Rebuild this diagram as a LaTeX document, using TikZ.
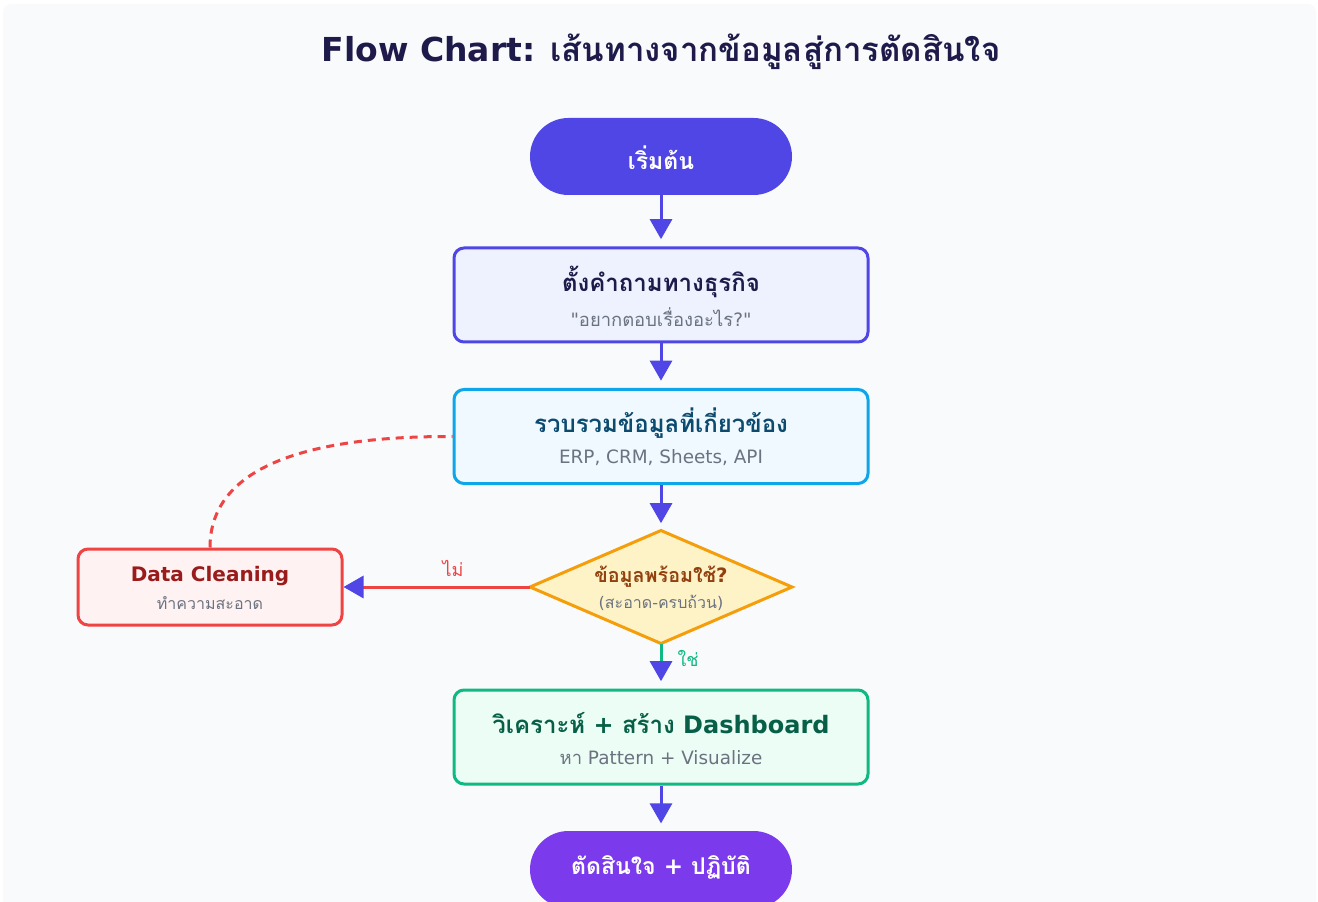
\documentclass[tikz,border=0pt]{standalone}
\usepackage{fontspec}
\setmainfont{DejaVu Sans}
\newfontfamily\thaifont[Script=Thai]{Loma}
\newfontfamily\straightquote{DejaVu Sans}
\usetikzlibrary{arrows.meta,shapes.geometric}

\definecolor{bgcol}{HTML}{F8FAFC}
\definecolor{navy}{HTML}{1E1B4B}
\definecolor{indigo}{HTML}{4F46E5}
\definecolor{indigofill}{HTML}{EEF2FF}
\definecolor{sky}{HTML}{0EA5E9}
\definecolor{skyfill}{HTML}{F0F9FF}
\definecolor{skytext}{HTML}{0C4A6E}
\definecolor{amber}{HTML}{F59E0B}
\definecolor{amberfill}{HTML}{FEF3C7}
\definecolor{ambertext}{HTML}{92400E}
\definecolor{redline}{HTML}{EF4444}
\definecolor{redfill}{HTML}{FEF2F2}
\definecolor{redtext}{HTML}{991B1B}
\definecolor{green}{HTML}{10B981}
\definecolor{greenfill}{HTML}{ECFDF5}
\definecolor{greentext}{HTML}{065F46}
\definecolor{violet}{HTML}{7C3AED}
\definecolor{subgray}{HTML}{6B7280}

\newcommand\thaitext[1]{{\thaifont #1}}
\newcommand\dq{{\straightquote"}}

\begin{document}
\begin{tikzpicture}[x=0.75pt,y=-0.75pt,
  box/.style={draw, line width=2.25pt, rounded corners=7.5pt,
    minimum width=310.5pt, minimum height=70.5pt, inner sep=0pt},
  pill/.style={rounded corners=28.875pt, minimum width=196.5pt,
    minimum height=57.75pt, inner sep=0pt},
  flow/.style={line width=2.25pt, draw=indigo,
    -{Triangle[length=15pt,width=16.5pt,color=indigo]}, shorten >=5.5pt},
  boxtitle/.style={font=\bfseries\fontsize{18}{22}\selectfont},
  pilltext/.style={text=white, font=\bfseries\fontsize{17.3}{21}\selectfont},
  boxsub/.style={text=subgray, font=\fontsize{13.8}{16}\selectfont},
  lbl/.style={font=\fontsize{13.5}{16}\selectfont}
]
\useasboundingbox (0,0) rectangle (1318,902);
\fill[white] (0,0) rectangle (1318,902);
\fill[bgcol, rounded corners=6pt] (3,4) rectangle (1316,930);

% heading
\node[text=navy, font=\bfseries\fontsize{24.75}{30}\selectfont] (heading) at (661,52)
  {Flow Chart: \thaitext{เส้นทางจากข้อมูลสู่การตัดสินใจ}};

% start
\node[pill, fill=indigo] (start) at (661,156.5) {};
\node[pilltext] (start-t) at (661,158) {\thaitext{เริ่มต้น}};

% business question
\node[box, draw=indigo, fill=indigofill] (ask) at (661,295) {};
\node[boxtitle, text=navy] (ask-t) at (661,282) {\thaitext{ตั้งคำถามทางธุรกิจ}};
\node[boxsub] (ask-s) at (661,317) {\dq\thaitext{อยากตอบเรื่องอะไร}?\dq};

% collect data
\node[box, draw=sky, fill=skyfill] (collect) at (661,436.5) {};
\node[boxtitle, text=skytext] (collect-t) at (661,423) {\thaitext{รวบรวมข้อมูลที่เกี่ยวข้อง}};
\node[boxsub] (collect-s) at (661,458) {ERP, CRM, Sheets, API};

% decision
\node[diamond, draw=amber, fill=amberfill, line width=2.25pt, inner sep=0pt, outer sep=0pt,
  minimum width=196.5pt, minimum height=84.75pt] (ready) at (661,587) {};
\node[text=ambertext, font=\bfseries\fontsize{14.8}{18}\selectfont] (ready-t) at (661,577)
  {\thaitext{ข้อมูลพร้อมใช้}?};
\node[text=subgray, font=\fontsize{12}{14}\selectfont] (ready-s) at (661,603)
  {(\thaitext{สะอาด}-\thaitext{ครบถ้วน})};

% data cleaning
\node[draw=redline, fill=redfill, line width=2.25pt, rounded corners=7.5pt,
  minimum width=198pt, minimum height=57pt, inner sep=0pt] (clean) at (210,587) {};
\node[text=redtext, font=\bfseries\fontsize{15}{18}\selectfont] (clean-t) at (210,576) {Data Cleaning};
\node[text=subgray, font=\fontsize{12}{14}\selectfont] (clean-s) at (210,603) {\thaitext{ทำความสะอาด}};

% analyse
\node[box, draw=green, fill=greenfill] (analyse) at (661,737) {};
\node[boxtitle, text=greentext] (analyse-t) at (661,723)
  {\thaitext{วิเคราะห์} + \thaitext{สร้าง} Dashboard};
\node[boxsub] (analyse-s) at (661,758) {\thaitext{หา} Pattern + Visualize};

% decide
\node[pill, fill=violet] (decide) at (661,869.5) {};
\node[pilltext] (decide-t) at (661,867) {\thaitext{ตัดสินใจ} + \thaitext{ปฏิบัติ}};

% connectors
\draw[flow] (start.south) -- (ask.north);
\draw[flow] (ask.south) -- (collect.north);
\draw[flow] (collect.south) -- (ready.north);
\draw[flow, draw=redline, shorten >=0pt] (ready.west) -- (clean.east);
\draw[flow, draw=green] (ready.south) -- (analyse.north);
\draw[flow] (analyse.south) -- (decide.north);
\draw[redline, line width=2.25pt, dash pattern=on 6pt off 4.5pt]
  (clean.north) .. controls (210,473.7) and (291.3,436) .. (collect.west);

% branch labels
\node[lbl, text=redline] (no) at (453,568) {\thaitext{ไม่}};
\node[lbl, text=green] (yes) at (688,658) {\thaitext{ใช่}};
\end{tikzpicture}
\end{document}
